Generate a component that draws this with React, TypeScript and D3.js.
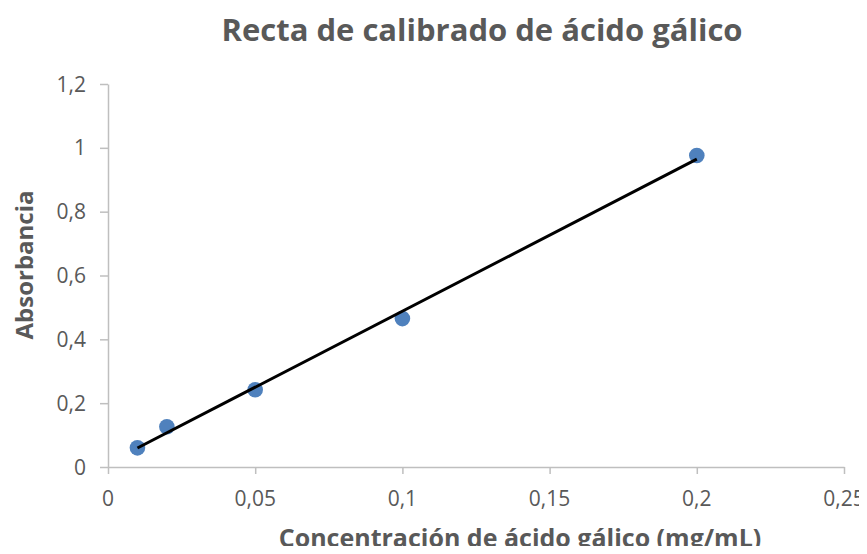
import {useEffect, useRef} from 'react';
import * as d3 from 'd3';

const [W, H] = [867, 554];

// concentración (mg/mL) y absorbancia
const concentracion = [0.01, 0.02, 0.05, 0.1, 0.2];
const absorbancia = [0.06, 0.126, 0.242, 0.465, 0.976];
const xTicks = [0, 0.05, 0.1, 0.15, 0.2, 0.25];
const yTicks = [0, 0.2, 0.4, 0.6, 0.8, 1, 1.2];

const FONT = '"Open Sans", "DejaVu Sans", sans-serif';
const fmt = (v: number) => String(v).replace('.', ',');

function App() {
    const svgRef = useRef<SVGSVGElement>(null);

    useEffect(() => {
        if (!svgRef.current) return;
        const svg = d3.select(svgRef.current);
        svg.selectAll('*').remove();

        const x = d3.scaleLinear().domain([0, 0.25]).range([108, 844]);
        const y = d3.scaleLinear().domain([0, 1.2]).range([467, 84]);

        // ejes (solo líneas; etiquetas aparte)
        const xAxis = svg.append('g').attr('transform', `translate(0,${y(0)})`)
            .call(d3.axisBottom(x).tickValues(xTicks).tickFormat(() => '').tickSizeInner(7).tickSizeOuter(0));
        const yAxis = svg.append('g').attr('transform', `translate(${x(0)},0)`)
            .call(d3.axisLeft(y).tickValues(yTicks).tickFormat(() => '').tickSizeInner(8).tickSizeOuter(0));
        [xAxis, yAxis].forEach(a => {
            a.select('.domain').attr('stroke', '#bfbfbf').attr('stroke-width', 1.5);
            a.selectAll('.tick line').attr('stroke', '#bfbfbf').attr('stroke-width', 1.5);
        });

        svg.append('g').selectAll('text').data(xTicks).join('text')
            .text(d => fmt(d))
            .attr('x', d => x(d)).attr('y', 506).attr('text-anchor', 'middle')
            .attr('fill', '#595959').style('font-family', FONT).style('font-size', '21px');
        svg.append('g').selectAll('text').data(yTicks).join('text')
            .text(d => fmt(d))
            .attr('x', 86).attr('y', d => y(d) + 7.5).attr('text-anchor', 'end')
            .attr('fill', '#595959').style('font-family', FONT).style('font-size', '21px');

        // recta de regresión lineal
        const mx = d3.mean(concentracion)!;
        const my = d3.mean(absorbancia)!;
        const sxy = d3.sum(concentracion, (c, i) => (c - mx) * (absorbancia[i] - my));
        const sxx = d3.sum(concentracion, c => (c - mx) ** 2);
        const m = sxy / sxx;
        const b = my - m * mx;
        const ext = d3.extent(concentracion) as [number, number];

        // puntos
        svg.append('g').selectAll('circle').data(concentracion).join('circle')
            .attr('cx', d => x(d))
            .attr('cy', (d, i) => y(absorbancia[i]))
            .attr('r', 7.8)
            .attr('fill', '#4f81bd');

        svg.append('line')
            .attr('x1', x(ext[0])).attr('y1', y(m * ext[0] + b))
            .attr('x2', x(ext[1])).attr('y2', y(m * ext[1] + b))
            .attr('stroke', '#000').attr('stroke-width', 3);

        // títulos
        svg.append('text').text('Recta de calibrado de ácido gálico')
            .attr('x', 482).attr('y', 41).attr('text-anchor', 'middle')
            .attr('fill', '#595959').style('font-family', FONT).style('font-weight', 'bold').style('font-size', '31px');
        svg.append('text').text('Concentración de ácido gálico (mg/mL)')
            .attr('x', 520).attr('y', 547).attr('text-anchor', 'middle')
            .attr('fill', '#595959').style('font-family', FONT).style('font-weight', 'bold').style('font-size', '25px');
        svg.append('text').text('Absorbancia')
            .attr('transform', `translate(33,${265}) rotate(-90)`).attr('text-anchor', 'middle')
            .attr('fill', '#595959').style('font-family', FONT).style('font-weight', 'bold').style('font-size', '24px');
    }, []);

    return (
        <div style={{width: W, height: H, margin: -8}}>
            <svg ref={svgRef} width={W} height={H} style={{display: 'block', background: '#fff'}} />
        </div>
    );
}

export default App;
